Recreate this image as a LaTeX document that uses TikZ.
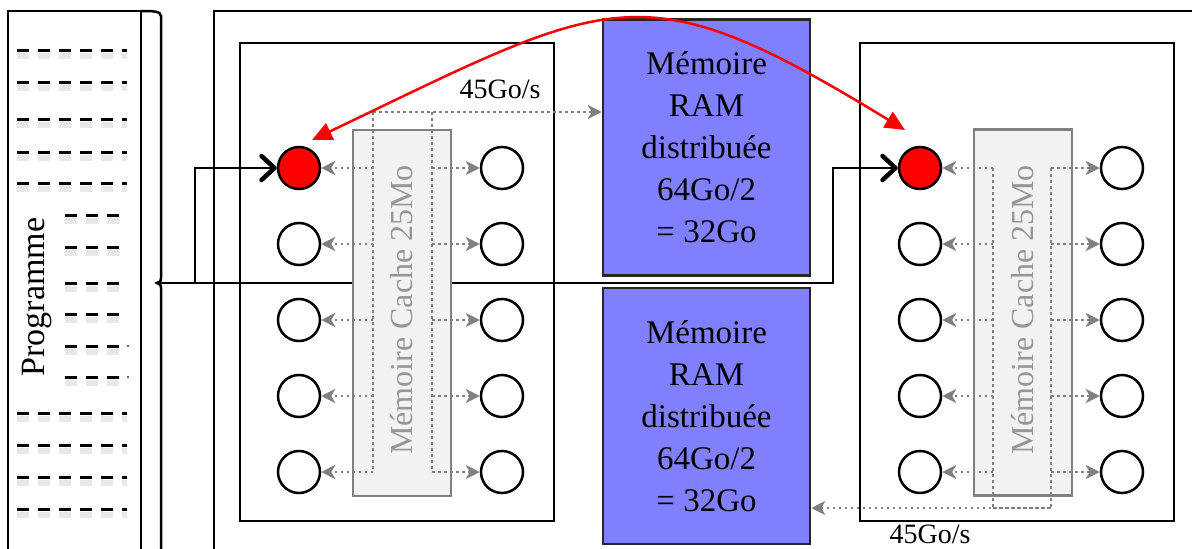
\documentclass[tikz,border=0pt]{standalone}
\usepackage{fontspec}
\setmainfont{Liberation Serif}
\usetikzlibrary{arrows.meta,calc}
\definecolor{ramblue}{RGB}{128,128,255}
\definecolor{cachegray}{RGB}{242,242,242}
\definecolor{dotgray}{RGB}{128,128,128}
\definecolor{textgray}{RGB}{150,150,150}
\tikzset{
  frame/.style={draw=black,line width=2.5pt},
  nodebox/.style={draw=black,line width=2.5pt,inner sep=0pt,minimum width=314pt,minimum height=478pt},
  ram/.style={draw=black!85,line width=2.5pt,fill=ramblue,inner sep=0pt,minimum width=207pt,minimum height=256pt,align=center,font=\fontsize{33}{42}\selectfont},
  cache/.style={draw=dotgray,line width=2.5pt,fill=cachegray,inner sep=0pt,minimum width=98pt,minimum height=366pt},
  cachetext/.style={rotate=90,text=textgray,font=\fontsize{32}{38}\selectfont},
  core/.style={circle,draw=black,line width=2.5pt,minimum size=42pt,inner sep=0pt,fill=white},
  hot/.style={core,fill=red},
  dotline/.style={draw=dotgray,line width=2.5pt,dash pattern=on 2.5pt off 3.5pt},
  link/.style={dotline,-{Stealth[length=14pt,width=14pt,inset=4pt]}},
  launch/.style={draw=black,line width=2.5pt,-{Straight Barb[length=13pt,width=24pt,line width=4.5pt,round]}},
  migrate/.style={draw=red,line width=2.5pt,{Triangle[length=20pt,width=18pt]}-{Triangle[length=20pt,width=18pt]}},
  codeline/.style={draw=black,line width=3pt,dash pattern=on 12pt off 9pt},
  codeshadow/.style={draw=black!9,line width=6pt,dash pattern=on 12pt off 9pt},
  lbl/.style={font=\fontsize{28}{32}\selectfont,inner sep=0pt}
}
\begin{document}
\begin{tikzpicture}[x=1pt,y=-1pt]
\useasboundingbox (0,0) rectangle (1192,549);
\clip (0,0) rectangle (1192,549);

% program sheet
\draw[frame] (8,11) rectangle (141,600);
\foreach \y in {50,82,119,152,183,413,445,477,509}{
  \draw[codeshadow] (17,\y+6) -- (127,\y+6);
  \draw[codeline] (17,\y) -- (127,\y);
}
\foreach \y in {215,247,283,314,346,377}{
  \draw[codeshadow] (65,\y+6) -- (119,\y+6);
  \draw[codeline] (65,\y) -- (119,\y);
}
\foreach \y in {346,377}{
  \draw[black!60,line width=1.5pt] (127,\y) -- (129,\y);
}
\node[rotate=90,font=\fontsize{34}{40}\selectfont,inner sep=0pt] (prog) at (37,297) {Programme};

% brace
\draw[frame] (141,11) .. controls (152,11) and (161,11) .. (161,16) -- (161,278)
  .. controls (161,281) .. (157,283) .. controls (161,285) .. (161,288) -- (161,600);
\coordinate (tip) at (160,283);

% outer machine frame
\draw[frame] (214,11) rectangle (1260,620);

% node boxes
\node[nodebox] (nodeA) at (397,282) {};
\node[nodebox] (nodeB) at (1017,282) {};

% RAM
\node[ram] (ramA) at (706.5,147.5) {Mémoire\\RAM\\distribuée\\64Go/2\\= 32Go};
\node[ram] (ramB) at (706.5,416) {Mémoire\\RAM\\distribuée\\64Go/2\\= 32Go};

% cores
\path
  (299,168) node[hot]  (a1) {}
  (299,244) node[core] (a2) {}
  (299,320) node[core] (a3) {}
  (299,396) node[core] (a4) {}
  (299,472) node[core] (a5) {}
  (502,168) node[core] (b1) {}
  (502,244) node[core] (b2) {}
  (502,320) node[core] (b3) {}
  (502,396) node[core] (b4) {}
  (502,472) node[core] (b5) {}
  (920,168) node[hot]  (c1) {}
  (920,244) node[core] (c2) {}
  (920,320) node[core] (c3) {}
  (920,396) node[core] (c4) {}
  (920,472) node[core] (c5) {}
  (1122,168) node[core] (d1) {}
  (1122,244) node[core] (d2) {}
  (1122,320) node[core] (d3) {}
  (1122,396) node[core] (d4) {}
  (1122,472) node[core] (d5) {};

% launch connectors
\coordinate (bendA) at (195,283);
\coordinate (bendB) at (833,283);
\draw[launch] (tip) -- (bendA) |- (a1.west);
\draw[launch] (bendA) -- (bendB) |- (c1.west);

% caches
\node[cache] (cacheA) at (402,313) {};
\node[cache] (cacheB) at (1023,312.5) {};

% dotted buses, left node
\coordinate (ba) at (373,112);
\coordinate (bb) at (432,112);
\draw[dotline] (ba) -- (373,472);
\draw[dotline] (bb) -- (432,472);
\draw[link] (ba) -- (ba -| ramA.west);
\foreach \i/\y in {1/168,2/244,3/320,4/396,5/472}{
  \draw[link] (373,\y) -- (a\i.east);
  \draw[link] (432,\y) -- (b\i.west);
}
\node[lbl,anchor=base] (bwA) at (500,98) {45Go/s};

% dotted buses, right node
\coordinate (bc) at (993,508);
\coordinate (bd) at (1051,508);
\draw[dotline] (993,168) -- (bc);
\draw[dotline] (1051,168) -- (bd);
\draw[dotline] (bc) -- (bd);
\draw[link] (bd) -- (bd -| ramB.east);
\foreach \i/\y in {1/168,2/244,3/320,4/396,5/472}{
  \draw[link] (993,\y) -- (c\i.east);
  \draw[link] (1051,\y) -- (d\i.west);
}
\node[lbl,anchor=base] (bwB) at (930,543) {45Go/s};

% cache labels
\node[cachetext] (ctA) at (402,310) {Mémoire Cache 25Mo};
\node[cachetext] (ctB) at (1023,310) {Mémoire Cache 25Mo};

% migration arrow
\coordinate (mA) at (312,140);
\coordinate (mB) at (905,130);
\draw[migrate] (mA) .. controls (615,-5) and (640,-32) .. (mB);
\end{tikzpicture}
\end{document}
